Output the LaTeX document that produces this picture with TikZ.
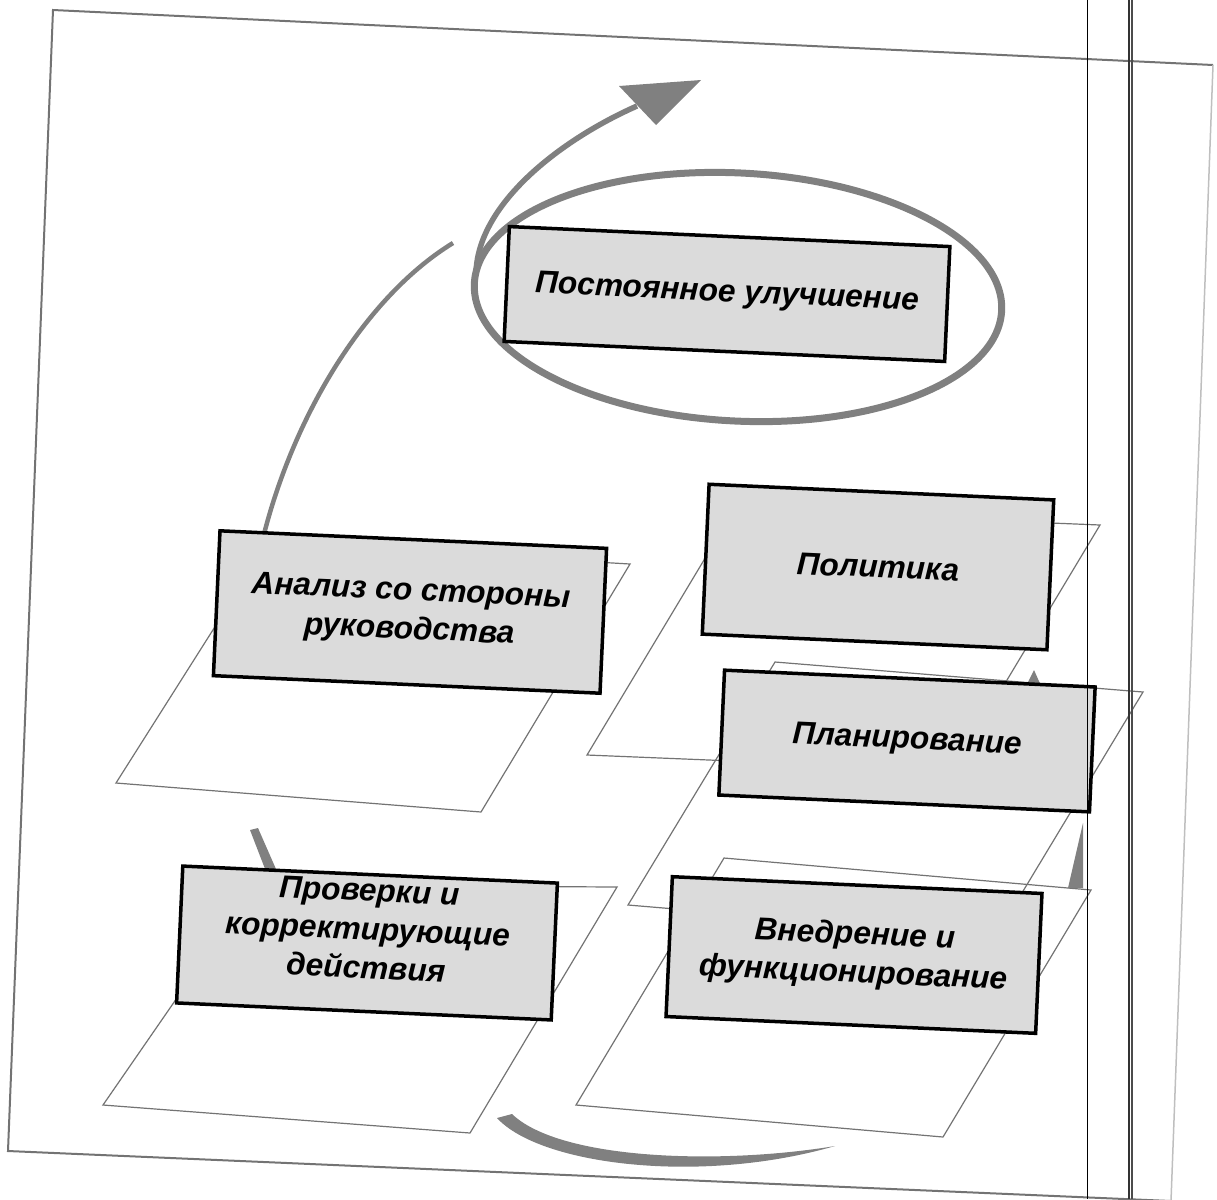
\documentclass[tikz,border=0pt]{standalone}
\usepackage{fontspec}
\setmainfont{Liberation Sans}
\usepackage{tikz}

\tikzset{
	caja/.style={draw=black, line width=0.35mm, fill=black!14, align=center, rotate=-2.6, inner sep=0pt,
		font=\bfseries\itshape\fontsize{9}{11}\selectfont},
	plano/.style={draw=black!55, line width=0.12mm},
	flecha/.style={draw=black!50, line width=0.55mm},
}

\begin{document}
\begin{tikzpicture}[x=0.1mm,y=-0.1mm]
				\useasboundingbox (0,0) rectangle (1217,1199);
				% Marco
				\draw[black!55, line width=0.2mm] (1213,65) -- (53,10) -- (8,1151) -- (1171,1201);
				\draw[black!25, line width=0.15mm] (1213,65) -- (1171,1201);

				% Planos
				\draw[plano] (268,543) -- (630,564) -- (481,812) -- (116,783) -- cycle;
				\draw[plano] (734,510) -- (1100,525) -- (953,770) -- (587,755) -- cycle;
				\draw[plano] (775,662) -- (1143,692) -- (996,936) -- (628,905) -- cycle;
				\draw[plano] (255,885) -- (617,887) -- (470,1133) -- (103,1105) -- cycle;
				\draw[plano] (724,858) -- (1091,890) -- (943,1137) -- (576,1105) -- cycle;

				% Espiral
				\fill[black!50] (250,830) -- (258,828) -- (283,885) -- (272,887) -- cycle;
				\draw[flecha, line width=0.45mm] (258,560) .. controls (285,430) and (360,300) .. (453,243);
				\draw[flecha, line width=0.7mm, rotate around={-3:(738,297)}] (738,297) ellipse [x radius=264, y radius=124];
				\draw[flecha] (476,275) .. controls (476,205) and (560,140) .. (637,106);
				\fill[black!50] (701,80) -- (619,86) -- (656,125) -- cycle;
				\fill[black!50] (497,1118) .. controls (540,1165) and (700,1185) .. (835,1146) .. controls (720,1165) and (560,1160) .. (512,1114) -- cycle;
				\fill[black!50] (1068,888) -- (1083,823) -- (1083,888) -- cycle;
				\fill[black!50] (1026,686) -- (1034,670) -- (1042,688) -- cycle;

				% Cajas
				\node[caja, minimum width=44.1mm, minimum height=11.5mm] (mejora) at (727,294) {Постоянное улучшение};
				\node[caja, minimum width=38.7mm, minimum height=14.5mm] (analisis) at (410,612) {Анализ со стороны\\руководства};
				\node[caja, minimum width=34.5mm, minimum height=15mm] (politica) at (878,567) {Политика};
				\node[caja, minimum width=37.1mm, minimum height=12.5mm] (planif) at (907,741) {Планирование};
				\node[caja, minimum width=37.5mm, minimum height=13.7mm, text depth=2.8mm] (verif) at (367,943) {Проверки и\\корректирующие\\действия};
				\node[caja, minimum width=37mm, minimum height=14mm] (implem) at (854,955) {Внедрение и\\функционирование};

				% Lineas del escaner
				\draw[black, line width=0.1mm] (1087,0) -- (1087,1199);
				\draw[black!80, line width=0.12mm] (1129,0) -- (1129,1199);
				\draw[black!70, line width=0.2mm] (1132,0) -- (1132,1199);
			\end{tikzpicture}
\end{document}
